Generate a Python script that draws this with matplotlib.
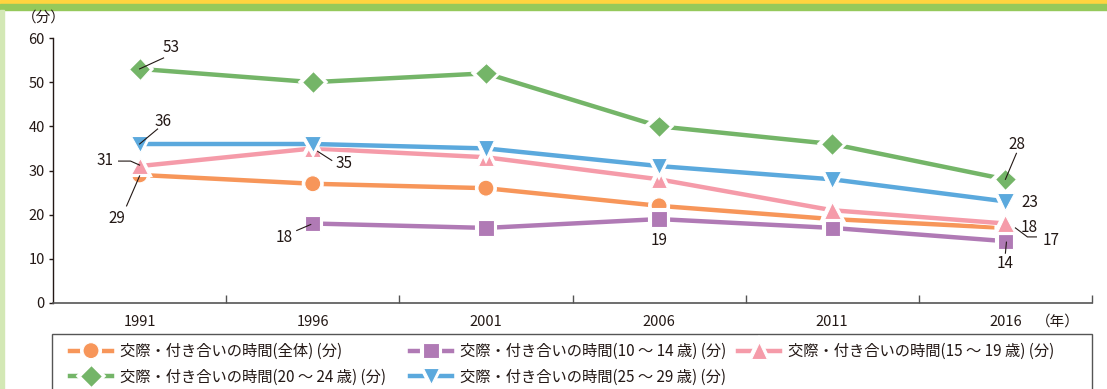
import numpy as np
import matplotlib
matplotlib.use("Agg")
import matplotlib.pyplot as plt
import matplotlib.patheffects as pe
from matplotlib.patches import Rectangle

plt.rcParams['font.family'] = ['Noto Sans CJK JP', 'DejaVu Sans']

years = ["1991", "1996", "2001", "2006", "2011", "2016"]
total = [29, 27, 26, 22, 19, 17]
age_10_14 = [np.nan, 18, 17, 19, 17, 14]
age_15_19 = [31, 35, 33, 28, 21, 18]
age_20_24 = [53, 50, 52, 40, 36, 28]
age_25_29 = [36, 36, 35, 31, 28, 23]

series_labels = [
    "交際・付き合いの時間(全体) (分)",
    "交際・付き合いの時間(10 ～ 14 歳) (分)",
    "交際・付き合いの時間(15 ～ 19 歳) (分)",
    "交際・付き合いの時間(20 ～ 24 歳) (分)",
    "交際・付き合いの時間(25 ～ 29 歳) (分)",
]
colors = ["#F7965A", "#B07AB5", "#F59BA9", "#74B568", "#5BA9DD"]
markers = ["o", "s", "^", "D", "v"]
msizes = [11.5, 11, 12, 11, 12]

TXT = "#231815"
W, H = 1107, 389
fig = plt.figure(figsize=(W / 100, H / 100), dpi=100)

# decorative bands
fig.patches.append(Rectangle((0, 1 - 4 / H), 1, 4 / H, transform=fig.transFigure,
                             color="#FFD43F", zorder=0))
fig.patches.append(Rectangle((0, 1 - 10 / H), 1, 6 / H, transform=fig.transFigure,
                             color="#95C95B", zorder=0))
fig.patches.append(Rectangle((0, 0), 3.5 / W, 1 - 10 / H, transform=fig.transFigure,
                             color="#D3E8B5", zorder=0))

left, right = 53 / W, 1092 / W
bottom, top = 1 - 303 / H, 1 - 38 / H
ax = fig.add_axes([left, bottom, right - left, top - bottom])

x = np.arange(len(years))
all_series = [total, age_10_14, age_15_19, age_20_24, age_25_29]
handles = []
for vals, c, m, ms, lab in zip(all_series, colors, markers, msizes, series_labels):
    h, = ax.plot(x, vals, color=c, lw=3.2, marker=m, markersize=ms,
                 markerfacecolor=c, markeredgecolor="white", markeredgewidth=0.8,
                 label=lab, zorder=3, clip_on=False,
                 path_effects=[pe.Stroke(linewidth=4.4, foreground="white"), pe.Normal()])
    handles.append(h)

ax.set_xlim(-0.5, len(years) - 0.5)
ax.set_ylim(0, 60)
ax.set_yticks(range(0, 61, 10))
ax.set_xticks(x)
ax.set_xticklabels(years)
ax.set_xticks(np.arange(len(years)) + 0.5, minor=True)
ax.tick_params(axis="x", which="major", length=0, pad=9, labelsize=10.5, colors=TXT)
ax.tick_params(axis="x", which="minor", direction="in", length=6, color="#555555", width=1)
ax.tick_params(axis="y", direction="out", length=3, width=1, labelsize=10.5,
               colors=TXT, pad=3)
for s in ["top", "right"]:
    ax.spines[s].set_visible(False)
ax.spines["left"].set_color(TXT)
ax.spines["left"].set_linewidth(1)
ax.spines["bottom"].set_color("#555555")
ax.spines["bottom"].set_linewidth(1.2)

fig.text(22 / W, 1 - 18 / H, "（分）", fontsize=10.5, color=TXT,
         ha="left", va="center")
fig.text(1036 / W, 1 - 322 / H, "（年）", fontsize=10.5, color=TXT,
         ha="left", va="center")


def line_px(xi, yv, pts):
    bx, by = ax.transData.transform((xi, yv))
    inv = fig.transFigure.inverted()
    fx, fy = [], []
    for dx, dy in pts:
        px, py = inv.transform((bx + dx, by + dy))
        fx.append(px)
        fy.append(py)
    fig.add_artist(plt.Line2D(fx, fy, transform=fig.transFigure, color=TXT,
                              lw=0.8, zorder=6))


def label(xi, yv, text, tx, ty):
    ax.annotate(text, xy=(xi, yv), xytext=(tx, ty), textcoords="offset pixels",
                ha="center", va="center", fontsize=11, color=TXT, zorder=5)


label(0, age_20_24[0], str(age_20_24[0]), 31, 21)
label(0, age_25_29[0], str(age_25_29[0]), 23, 22)
label(0, age_15_19[0], str(age_15_19[0]), -35, 6)
label(0, total[0], str(total[0]), -23, -44)
label(1, age_15_19[1], str(age_15_19[1]), 31, -15)
label(1, age_10_14[1], str(age_10_14[1]), -29, -14)
label(3, age_10_14[3], str(age_10_14[3]), 0, -21)
label(5, age_20_24[5], str(age_20_24[5]), 12, 35)
label(5, age_25_29[5], str(age_25_29[5]), 24, -1)
label(5, age_15_19[5], str(age_15_19[5]), 24, -4)
label(5, total[5], str(total[5]), 46, -13)
label(5, age_10_14[5], str(age_10_14[5]), 0, -22)

fig.canvas.draw()
line_px(0, age_20_24[0], [(0, 0), (24, 11)])
line_px(0, age_25_29[0], [(0, 0), (18, 15)])
line_px(0, age_15_19[0], [(-21, 5), (-9, 5), (0, 1)])
line_px(0, total[0], [(0, -1), (-13, -31)])
line_px(1, age_15_19[1], [(5, -3), (19, -12)])
line_px(1, age_10_14[1], [(-16, -7), (-2, -1)])
line_px(5, age_20_24[5], [(0, 0), (11, 26)])
line_px(5, total[5], [(10, 0), (22, -9), (31, -9)])
line_px(5, age_10_14[5], [(1, -1), (0, -12)])

# legend: three columns placed at fixed positions
columns = [([0, 3], 70), ([1, 4], 410), ([2], 738)]
for idx, x0 in columns:
    fig.legend([handles[i] for i in idx], [series_labels[i] for i in idx],
               loc="upper left", bbox_to_anchor=(x0 / W, 1 - 343 / H),
               frameon=False, fontsize=11, handlelength=2.75, handletextpad=0.55,
               labelspacing=0.55, borderaxespad=0, borderpad=0, labelcolor=TXT)
fig.patches.append(Rectangle((52 / W, -0.05), 1040 / W, 0.05 + 1 - 334 / H,
                             transform=fig.transFigure, fill=False,
                             edgecolor="#555555", lw=1, zorder=1))

fig.savefig("out.png", dpi=100)
